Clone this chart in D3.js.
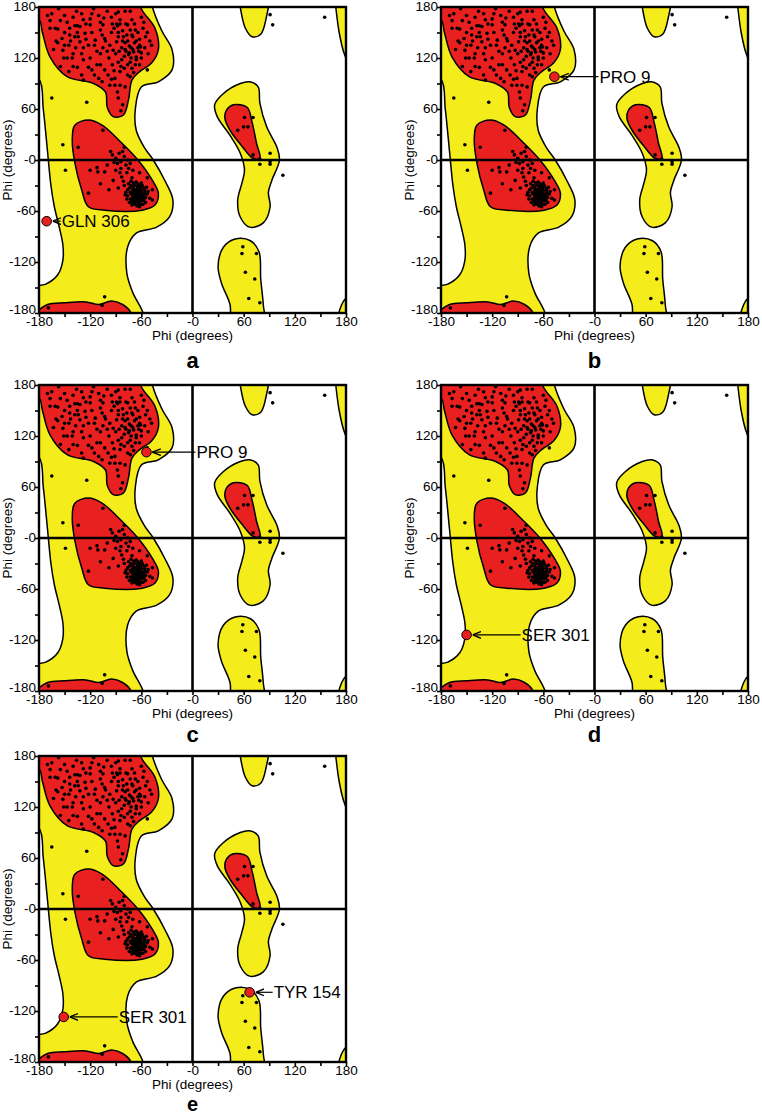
<!DOCTYPE html>
<head>
    <meta charset="utf-8">
    <script src="https://d3js.org/d3.v7.min.js"></script>
    <style>
        html, body { padding: 0; margin: 0; background: #fff; }
        svg { display: block; }
        text { font-family: "Liberation Sans", Arial, sans-serif; fill: #000; }
        .contour { stroke: #000; stroke-width: 1.5; }
    </style>
</head>
<body>
<script>
    // --- data (degrees: [phi, psi]) ---
    var panelIds = ["a", "b", "c", "d", "e"];
    var tickValues = [-180, -120, -60, 0, 60, 120, 180];
    var minorTicks = d3.range(-180, 181, 30);

    // allowed (yellow) regions
    var yellowMain = [[-200,200],[-50,200],[-47,180],[-36,152],[-24,130],[-24,106],[-40,92],[-60,86],[-67,60],[-66,35],[-56,14],[-46,0],[-32,-25],[-23,-47],[-27,-67],[-42,-79],[-66,-86],[-76,-102],[-77,-133],[-70,-156],[-58,-180],[-55,-200],[-200,-200],[-200,-152],[-172,-146],[-158,-135],[-152,-118],[-152,-100],[-156,-80],[-162,-55],[-166,-30],[-170,10],[-175,60],[-180,95],[-200,100]];
    var yellowTop = [[54,200],[56,180],[62,155],[70,145],[80,148],[86,165],[88,200]];
    var yellowMid = [[56,90],[36,78],[26,65],[29,51],[44,29],[56,8],[61,-12],[58,-27],[53,-47],[56,-67],[67,-79],[83,-74],[91,-55],[89,-38],[93,-24],[102,0],[99,15],[87,39],[79,67],[77,86],[67,92]];
    var yellowBot = [[47,-200],[44,-170],[34,-145],[30,-125],[36,-103],[50,-93],[68,-95],[78,-108],[80,-140],[83,-170],[84,-200]];
    var yellowRightTop = [[166,200],[168,180],[172,150],[178,125],[185,112],[200,110],[200,200]];
    var yellowRightBot = [[200,-155],[183,-160],[175,-170],[171,-200],[200,-200]];

    // favoured (red) regions
    var redBeta = [[-200,200],[-65,200],[-60,178],[-44,155],[-40,130],[-48,114],[-62,104],[-71,94],[-75,71],[-81,53],[-93,51],[-100,62],[-102,80],[-116,90],[-147,98],[-167,121],[-176,150],[-180,165],[-200,170]];
    var redAlpha = [[-122,47],[-106,41],[-83,20],[-64,0],[-47,-24],[-40,-39],[-44,-53],[-59,-59],[-103,-59],[-122,-55],[-130,-35],[-138,-3],[-141,23],[-138,41]];
    var redMid = [[48,65],[64,62],[70,44],[75,20],[79,2],[71,2],[59,15],[44,35],[38,49],[40,59]];
    var redBot = [[-200,-200],[-182,-178],[-170,-170],[-150,-168],[-125,-167],[-110,-170],[-95,-166],[-82,-170],[-72,-180],[-70,-200]];

    // residues
    var betaDots = [[-157,178],[-136,175],[-116,178],[-87,174],[-79,175],[-73,175],[-167,164],[-155,164],[-167,155],[-161,155],[-158,154],[-144,155],[-138,158],[-135,158],[-132,157],[-120,166],[-120,159],[-108,162],[-105,159],[-94,160],[-89,160],[-85,160],[-76,159],[-71,165],[-73,153],[-144,147],[-138,145],[-134,145],[-126,149],[-153,143],[-108,153],[-106,147],[-103,143],[-87,150],[-87,145],[-81,145],[-71,147],[-67,153],[-158,138],[-152,129],[-132,139],[-128,132],[-122,135],[-114,141],[-105,132],[-97,135],[-89,139],[-93,129],[-83,132],[-79,130],[-75,124],[-72,132],[-69,127],[-66,121],[-63,128],[-61,133],[-56,132],[-151,120],[-147,120],[-141,120],[-135,109],[-128,118],[-122,109],[-112,112],[-108,112],[-103,106],[-94,112],[-99,100],[-87,115],[-85,104],[-91,96],[-97,88],[-91,88],[-85,88],[-106,92],[-128,94],[-73,98],[-79,86],[-87,73],[-78,128],[-74,126],[-70,130],[-72,120],[-64,132],[-68,138],[-76,140],[-62,142],[-70,145],[-80,122],[-66,118],[-60,126],[-74,134],[-82,140],[-150,170],[-140,168],[-130,172],[-125,160],[-110,170],[-100,175],[-95,168],[-90,172],[-85,165],[-60,168],[-58,155],[-55,145],[-50,140],[-52,125],[-150,150],[-145,135],[-140,125],[-118,150],[-112,128],[-98,120],[-92,105],[-80,108],[-76,100],[-130,100],[-140,110],[-160,140],[-170,170],[-120,120],[-115,100],[-102,140],[-88,158],[-84,110],[-78,160],[-68,160],[-62,112],[-95,150],[-125,142],[-135,150],
        [-165,172],[-147,162],[-128,165],[-118,172],[-104,167],[-92,155],[-82,152],[-77,147],[-64,150],[-57,162],[-53,150],[-48,135],[-60,120],[-67,112],[-71,108],[-83,118],[-90,125],[-100,128],[-108,125],[-115,135],[-130,125],[-137,132],[-143,140],[-150,135],[-163,130],[-155,110],[-145,104],[-118,106],[-110,96],[-95,95],[-88,80],[-82,65],[-84,58],[-76,112],[-69,103],[-73,115],[-79,138],[-86,128],[-66,140],[-62,135]];
    var alphaDots = [[-65,-40],[-63,-42],[-67,-38],[-61,-38],[-69,-44],[-64,-46],[-60,-44],[-66,-35],[-70,-36],[-62,-34],[-58,-40],[-72,-40],[-68,-48],[-63,-50],[-59,-48],[-66,-43],[-64,-37],[-61,-41],[-67,-45],[-70,-42],[-73,-46],[-56,-36],[-55,-44],[-62,-30],[-68,-30],[-74,-33],[-76,-42],[-58,-52],[-65,-54],[-70,-50],[-60,-36],[-63,-39],[-66,-41],[-62,-44],[-65,-47],[-69,-39],[-57,-42],[-64,-33],[-71,-47],[-60,-46],[-53,-40],[-78,-38],[-75,-28],[-72,-25],[-66,-26],[-59,-30],[-54,-32],[-80,-30],[-62,-55],[-68,-52],[-50,-45],[-64,-44],[-66,-38],[-61,-47],[-63,-36],[-67,-42],[-59,-43],[-70,-33],[-65,-31],[-57,-47],
        [-72,-30],[-69,-27],[-60,-27],[-57,-33],[-52,-37],[-55,-50],[-60,-52],[-66,-50],[-71,-53],[-74,-50],[-77,-46],[-79,-41],[-76,-35],[-64,-28],[-68,-35],[-62,-48],[-58,-45],[-61,-33],[-65,-44],[-67,-49],[-73,-38],[-70,-45],[-56,-39],[-63,-53],[-81,-25],[-85,-15],[-92,-3],[-96,10],[-80,15],[-70,-12],
        [-105,35],[-134,15],[-122,-39],[-120,-12],[-112,-9],[-111,-14],[-103,-14],[-100,-6],[-94,6],[-90,2],[-86,8],[-84,-2],[-80,4],[-88,-4],[-78,-6],[-82,10],[-76,0],[-73,-4],[-93,-24],[-83,-20],[-77,-15],[-87,-33],[-71,-21],[-62,-15],[-53,-21],[-47,-35],[-47,-47],[-98,-35],[-108,-28],[-90,-12],[-84,-10],[-75,-10]];
    var otherDots = [[-53,106],[-165,73],[-124,68],[-152,18],[-149,-12],[-103,-161],[-106,-171],[-169,-174],
        [61,50],[71,50],[53,35],[60,39],[65,39],[71,6],[79,1],[91,8],[79,-5],[91,-5],[91,-2],[106,-18],
        [91,171],[94,159],[155,168],
        [59,-102],[58,-110],[75,-110],[62,-132],[73,-140],[66,-163],[79,-168]];

    // highlighted residue per panel: [panel, name, phi, psi]
    var highlights = [
        ["a", "GLN 306", -171, -72],
        ["b", "PRO 9", -47, 98],
        ["c", "PRO 9", -54, 101],
        ["d", "SER 301", -150, -114],
        ["e", "SER 301", -151, -127],
        ["e", "TYR 154", 67, -98]
    ];

    // --- layout ---
    var W = 307, H = 306;
    var origin = { a: [39, 7], b: [441, 7], c: [39, 385], d: [441, 385], e: [39, 756] };
    var letterDy = { a: 361, b: 361, c: 357, d: 357, e: 354.5 };
    var letterSize = { a: 22, b: 22, c: 22, d: 22, e: 20 };
    var labelGap = { "a GLN 306": 15, "b PRO 9": 45, "c PRO 9": 50, "d SER 301": 55, "e SER 301": 55, "e TYR 154": 24 };
    var YELLOW = "#f5ec1c", RED = "#e8201f";

    var svg = d3.select("body").append("svg")
        .attr("width", 762)
        .attr("height", 1115);

    svg.append("defs").append("marker")
        .attr("id", "arr")
        .attr("viewBox", "0 0 10 10")
        .attr("refX", 10).attr("refY", 5)
        .attr("markerWidth", 7).attr("markerHeight", 7)
        .attr("orient", "auto")
        .append("path")
        .attr("d", "M0,1 L10,5 L0,9")
        .attr("fill", "none")
        .attr("stroke", "#000")
        .attr("stroke-width", 1.6);

    var x = d3.scaleLinear().domain([-180, 180]).range([0, W]);
    var y = d3.scaleLinear().domain([-180, 180]).range([H, 0]);

    var contour = d3.line()
        .x(function(d) { return x(d[0]); })
        .y(function(d) { return y(d[1]); })
        .curve(d3.curveCatmullRomClosed.alpha(0.5));

    var fmt = function(d) { return tickValues.indexOf(d) < 0 ? "" : (d === 0 ? "-0" : String(d)); };

    var allDots = betaDots.concat(alphaDots, otherDots);

    panelIds.forEach(function(id) {
        var g = svg.append("g")
            .attr("transform", "translate(" + origin[id][0] + "," + origin[id][1] + ")");

        svg.select("defs").append("clipPath")
            .attr("id", "clip-" + id)
            .append("rect").attr("width", W).attr("height", H);

        var plot = g.append("g").attr("clip-path", "url(#clip-" + id + ")");

        plot.selectAll(".yellow")
            .data([yellowMain, yellowTop, yellowMid, yellowBot, yellowRightTop, yellowRightBot])
            .enter().append("path")
            .attr("class", "contour")
            .attr("fill", YELLOW)
            .attr("d", contour);

        plot.selectAll(".red")
            .data([redBeta, redAlpha, redMid, redBot])
            .enter().append("path")
            .attr("class", "contour")
            .attr("fill", RED)
            .attr("d", contour);

        // zero lines
        plot.append("line")
            .attr("x1", x(0)).attr("x2", x(0)).attr("y1", 0).attr("y2", H)
            .attr("stroke", "#000").attr("stroke-width", 2.6);
        plot.append("line")
            .attr("x1", 0).attr("x2", W).attr("y1", y(0)).attr("y2", y(0))
            .attr("stroke", "#000").attr("stroke-width", 2.6);

        plot.selectAll(".dot")
            .data(allDots)
            .enter().append("circle")
            .attr("cx", function(d) { return x(d[0]); })
            .attr("cy", function(d) { return y(d[1]); })
            .attr("r", 1.8)
            .attr("fill", "#000");

        // axes
        var xAxis = g.append("g")
            .attr("transform", "translate(0," + H + ")")
            .call(d3.axisBottom(x).tickValues(minorTicks).tickSize(4).tickPadding(-1).tickFormat(fmt));
        var yAxis = g.append("g")
            .call(d3.axisLeft(y).tickValues(minorTicks).tickSize(4).tickPadding(-1).tickFormat(fmt));
        [xAxis, yAxis].forEach(function(a) {
            a.select(".domain").remove();
            a.selectAll("line").attr("stroke-width", 1.6);
            a.selectAll("text").style("font-size", "13.5px").attr("fill", "#000");
        });
        yAxis.selectAll("text").attr("dy", function(d) { return d === -180 ? "0.05em" : "0.25em"; });

        g.append("rect")
            .attr("width", W).attr("height", H)
            .attr("fill", "none")
            .attr("stroke", "#000")
            .attr("stroke-width", 2.4);

        g.append("text")
            .attr("x", W / 2).attr("y", H + 27)
            .attr("text-anchor", "middle")
            .style("font-size", "13.5px")
            .text("Phi (degrees)");

        g.append("text")
            .attr("transform", "translate(-27," + (H / 2) + ") rotate(-90)")
            .attr("text-anchor", "middle")
            .style("font-size", "13.5px")
            .text("Phi (degrees)");

        g.append("text")
            .attr("x", W / 2).attr("y", letterDy[id])
            .attr("text-anchor", "middle")
            .style("font-size", letterSize[id] + "px")
            .style("font-weight", "bold")
            .text(id);

        // highlighted residues
        highlights.filter(function(h) { return h[0] === id; }).forEach(function(h) {
            var cx = x(h[2]), cy = y(h[3]);
            var gap = labelGap[h[0] + " " + h[1]];
            g.append("line")
                .attr("x1", cx + gap - 1).attr("y1", cy)
                .attr("x2", cx + 6).attr("y2", cy)
                .attr("stroke", "#000").attr("stroke-width", 1.2)
                .attr("marker-end", "url(#arr)");
            g.append("circle")
                .attr("cx", cx).attr("cy", cy).attr("r", 4.8)
                .attr("fill", RED).attr("stroke", "#000").attr("stroke-width", 1);
            g.append("text")
                .attr("x", cx + gap).attr("y", cy)
                .attr("dy", "0.36em")
                .style("font-size", "17px")
                .text(h[1]);
        });
    });
</script>
</body>
